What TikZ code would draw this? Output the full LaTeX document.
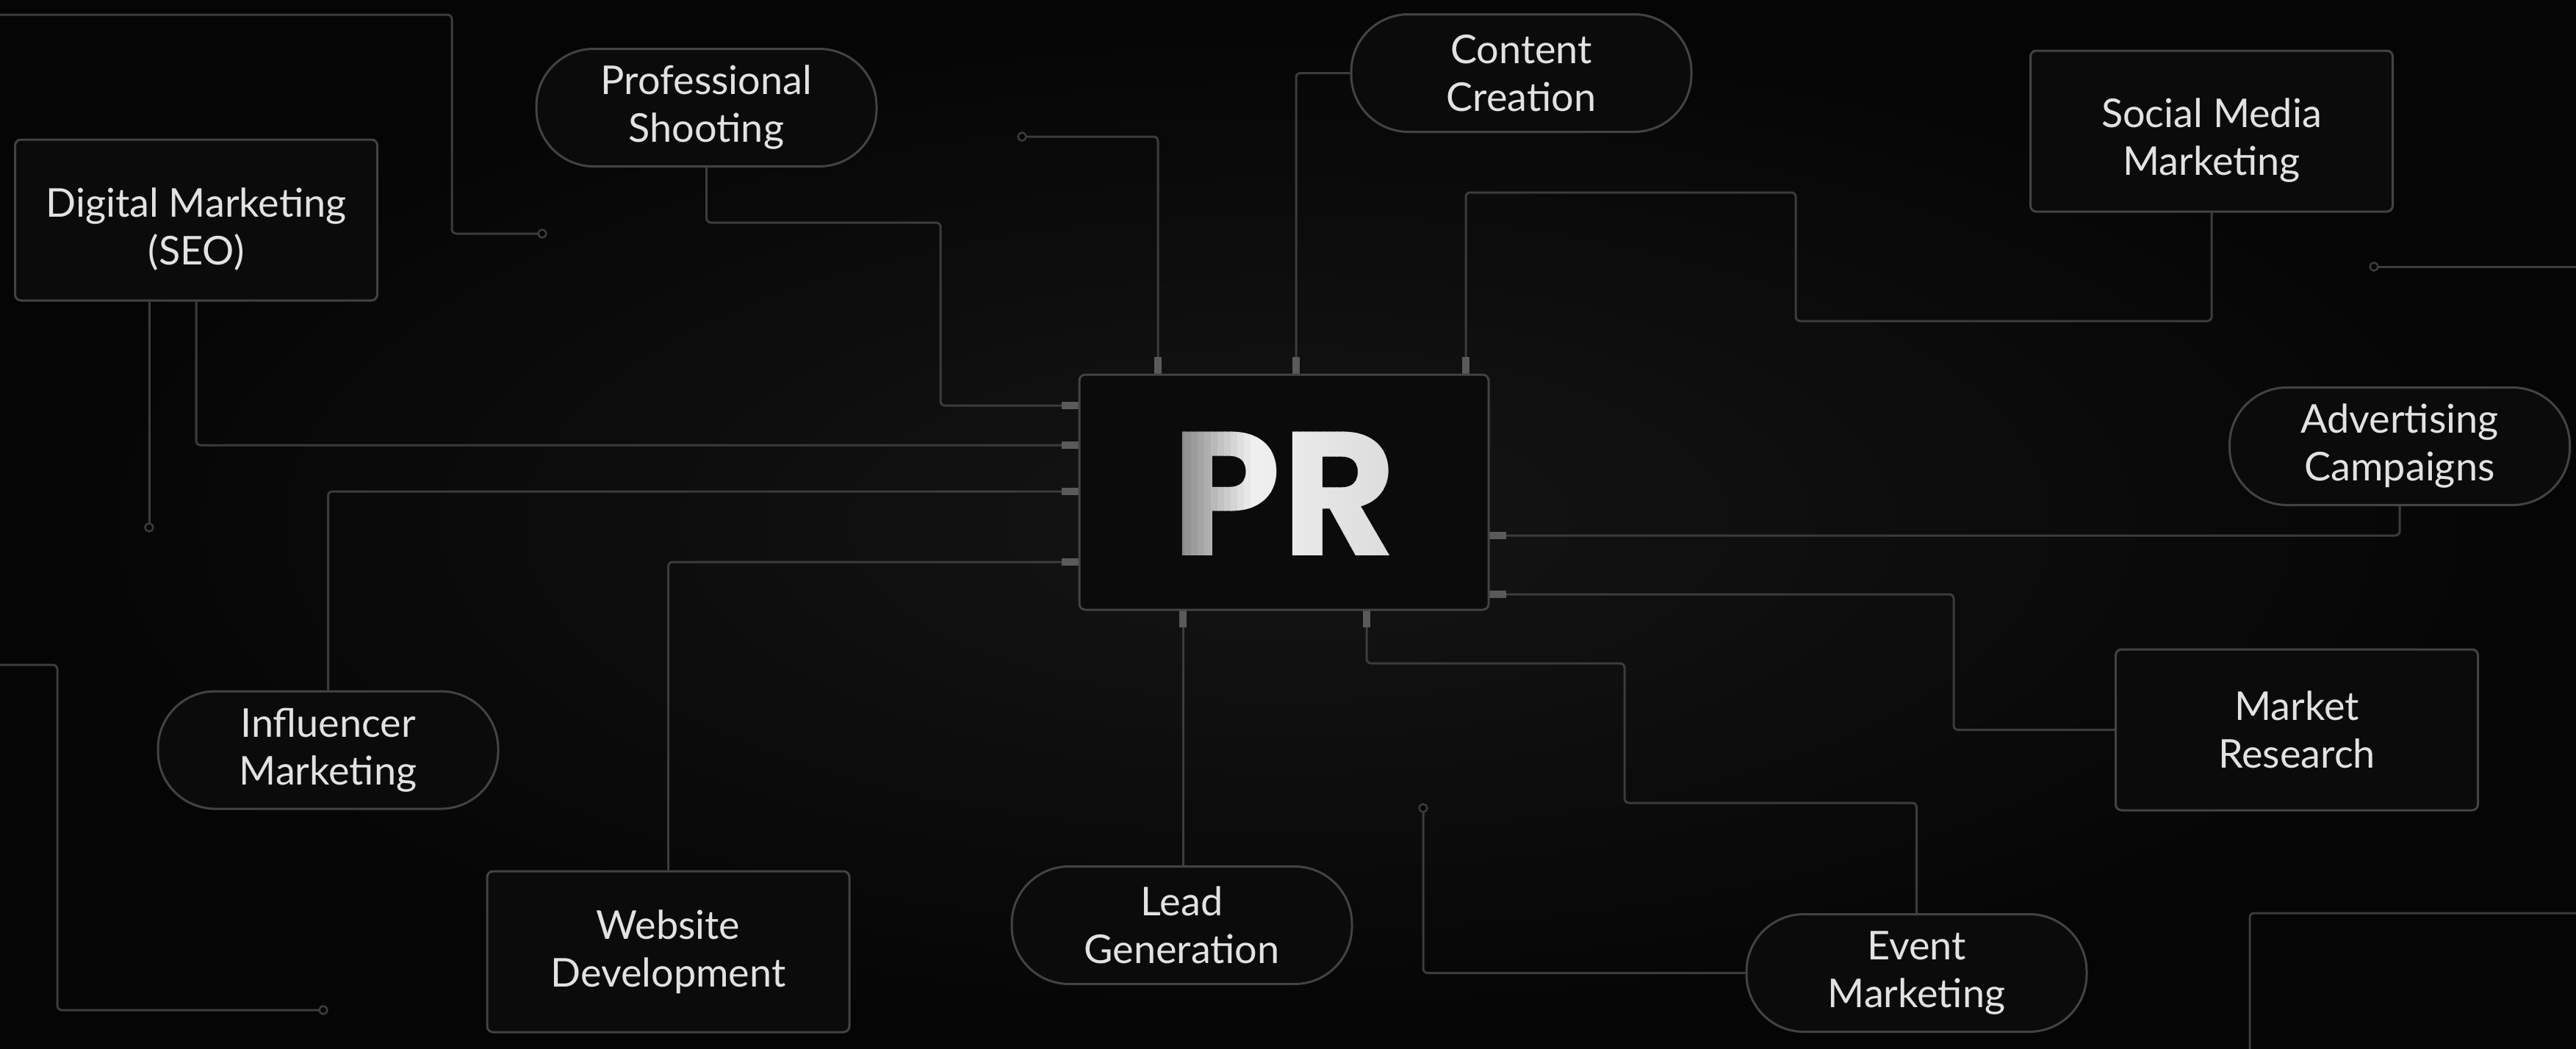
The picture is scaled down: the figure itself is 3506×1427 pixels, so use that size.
\documentclass[tikz,border=0pt]{standalone}
\usepackage{fontspec}
\setmainfont{Lato}
\newfontfamily\prfont{Poppins}
\definecolor{bgin}{HTML}{151515}
\definecolor{bgout}{HTML}{050505}
\definecolor{linec}{HTML}{3C3C3C}
\definecolor{boxc}{HTML}{434343}
\definecolor{boxf}{HTML}{0B0B0B}
\definecolor{stubc}{HTML}{5A5A5A}
\definecolor{txt}{HTML}{E2E2E2}
\definecolor{pra}{HTML}{7A7A7A}
\definecolor{prc}{HTML}{EFEFEF}
\definecolor{prd}{HTML}{DCDCDC}
\newcommand\lblfont{\fontsize{54}{65}\selectfont}
\newcommand\prtextfont{\prfont\bfseries\fontsize{240}{240}\selectfont}
\begin{document}
\begin{tikzpicture}[x=1pt,y=-1pt,
  conn/.style={draw=linec,line width=3pt,rounded corners=6pt},
  stubline/.style={draw=stubc,line width=10pt},
  rbox/.style={draw=boxc,line width=3pt,fill=boxf,rounded corners=8pt,minimum width=493pt,minimum height=219pt,inner sep=0pt,align=center,text=txt,font=\lblfont},
  pill/.style={draw=boxc,line width=3pt,fill=boxf,rounded corners=78pt,minimum width=463pt,minimum height=160pt,inner sep=0pt,align=center,text=txt,font=\lblfont},
  ghost/.style={draw=none,fill=none},
  endcirc/.style={draw=linec,line width=2.5pt,fill=bgout,circle,inner sep=0pt,minimum size=11pt}]
\useasboundingbox (0,0) rectangle (3506,1427);
\shade[inner color=bgin,outer color=bgout] (0,0) rectangle (3506,1427);

% port coordinates
\coordinate (pt1) at (1576,486);
\coordinate (pt2) at (1764,486);
\coordinate (pt3) at (1995,486);
\coordinate (pl1) at (1445,552);
\coordinate (pl2) at (1445,606);
\coordinate (pl3) at (1445,669);
\coordinate (pl4) at (1445,765);
\coordinate (pr1) at (2050,729);
\coordinate (pr2) at (2050,809);
\coordinate (pb1) at (1610,854);
\coordinate (pb2) at (1860,854);

% free ends
\coordinate (c1) at (738,318);
\coordinate (c2) at (440,1375);
\coordinate (c3) at (1391,186);
\coordinate (c4) at (3231,363);
\coordinate (c5) at (1937,1100);
\coordinate (c6) at (203,718);
\coordinate (e1) at (-10,20);
\coordinate (e2) at (-10,905);
\coordinate (e3) at (3520,363);
\coordinate (e4) at (3520,1243);
\coordinate (e5) at (3062,1440);

% node outlines used for routing
\node[rbox,ghost] (dm) at (267,299.5) {};
\node[pill,ghost] (ps) at (961.5,146.5) {};
\node[pill,ghost] (cc) at (2070.5,99.5) {};
\node[rbox,ghost] (smm) at (3010,178.5) {};
\node[pill,ghost] (ac) at (3266,607.5) {};
\node[rbox,ghost] (mr) at (3126,993.5) {};
\node[pill,ghost] (em) at (2608.5,1324.5) {};
\node[pill,ghost] (lg) at (1608.5,1259.5) {};
\node[rbox,ghost] (wd) at (909.5,1295.5) {};
\node[pill,ghost] (im) at (446.5,1021) {};
\node[minimum width=557pt,minimum height=320pt,inner sep=0pt] (pr) at (1747.5,670) {};

% connectors
\draw[conn] (e1) -| (615,318) -- (c1);
\draw[conn] (e2) -| (78,1375) -- (c2);
\draw[conn] (c4) -- (e3);
\draw[conn] (e4) -| (e5);
\draw[conn] (ps.south) |- (1280,303) |- (pl1);
\draw[conn] (dm.south) |- (pl2);
\draw[conn] (dm.south -| c6) -- (c6);
\draw[conn] (im.north) |- (pl3);
\draw[conn] (wd.north) |- (pl4);
\draw[conn] (c3) -| (pt1);
\draw[conn] (cc.west) -| (pt2);
\draw[conn] (smm.south) |- (2444,437) |- (1995,262) -- (pt3);
\draw[conn] (ac.south) |- (pr1);
\draw[conn] (mr.west) -| (2659,809) -- (pr2);
\draw[conn] (em.north) |- (2211,1093) |- (1860,903) -- (pb2);
\draw[conn] (pb1) -- (pb1 |- lg.north);
\draw[conn] (c5) |- (em.west);

% visible nodes
\node[rbox] at (dm) {\rule{0pt}{64pt}Digital Marketing\\(SEO)};
\node[pill] at (ps) {Professional\\Shooting};
\node[pill] at (cc) {Content\\Creation};
\node[rbox] at (smm) {\rule{0pt}{64pt}Social Media\\Marketing};
\node[pill] at (ac) {Advertising\\Campaigns};
\node[rbox] at (mr) {Market\\Research};
\node[pill] at (em) {Event\\Marketing};
\node[pill] at (lg) {Lead\\Generation};
\node[rbox] at (wd) {Website\\Development};
\node[pill] at (im) {Influencer\\Marketing};
\foreach \c in {c1,c2,c3,c4,c5,c6} \node[endcirc] at (\c) {};

% stubs
\foreach \p in {pt1,pt2,pt3} \draw[stubline] (\p) -- (\p |- pr.north);
\foreach \p in {pb1,pb2} \draw[stubline] (\p) -- (\p |- pr.south);
\foreach \p in {pl1,pl2,pl3,pl4} \draw[stubline] (\p) -- (\p -| pr.west);
\foreach \p in {pr1,pr2} \draw[stubline] (\p) -- (\p -| pr.east);

% PR box and gradient text (vertical strips)
\node[draw=boxc,line width=3pt,fill=boxf,rounded corners=8pt,minimum width=557pt,minimum height=320pt,inner sep=0pt] at (pr) {};
\foreach \i in {0,...,41} {
  \pgfmathsetmacro\xa{1567+9*\i}
  \pgfmathsetmacro\xm{\xa+4.5}
  \pgfmathtruncatemacro\isP{\xm<1712 ? 1 : 0}
  \ifnum\isP=1
    \pgfmathtruncatemacro\pct{max(0,min(100,(\xm-1592)/112*100))}
    \colorlet{stripc}{prc!\pct!pra}
  \else
    \pgfmathtruncatemacro\pct{max(0,min(100,(\xm-1712)/180*100))}
    \colorlet{stripc}{prd!\pct!prc}
  \fi
  \begin{scope}
    \clip (\xa,540) rectangle (\xa+9.6,800);
    \node[text=stripc,font=\prtextfont,inner sep=0pt] at (1747.5,672) {PR};
  \end{scope}
}
\end{tikzpicture}
\end{document}
